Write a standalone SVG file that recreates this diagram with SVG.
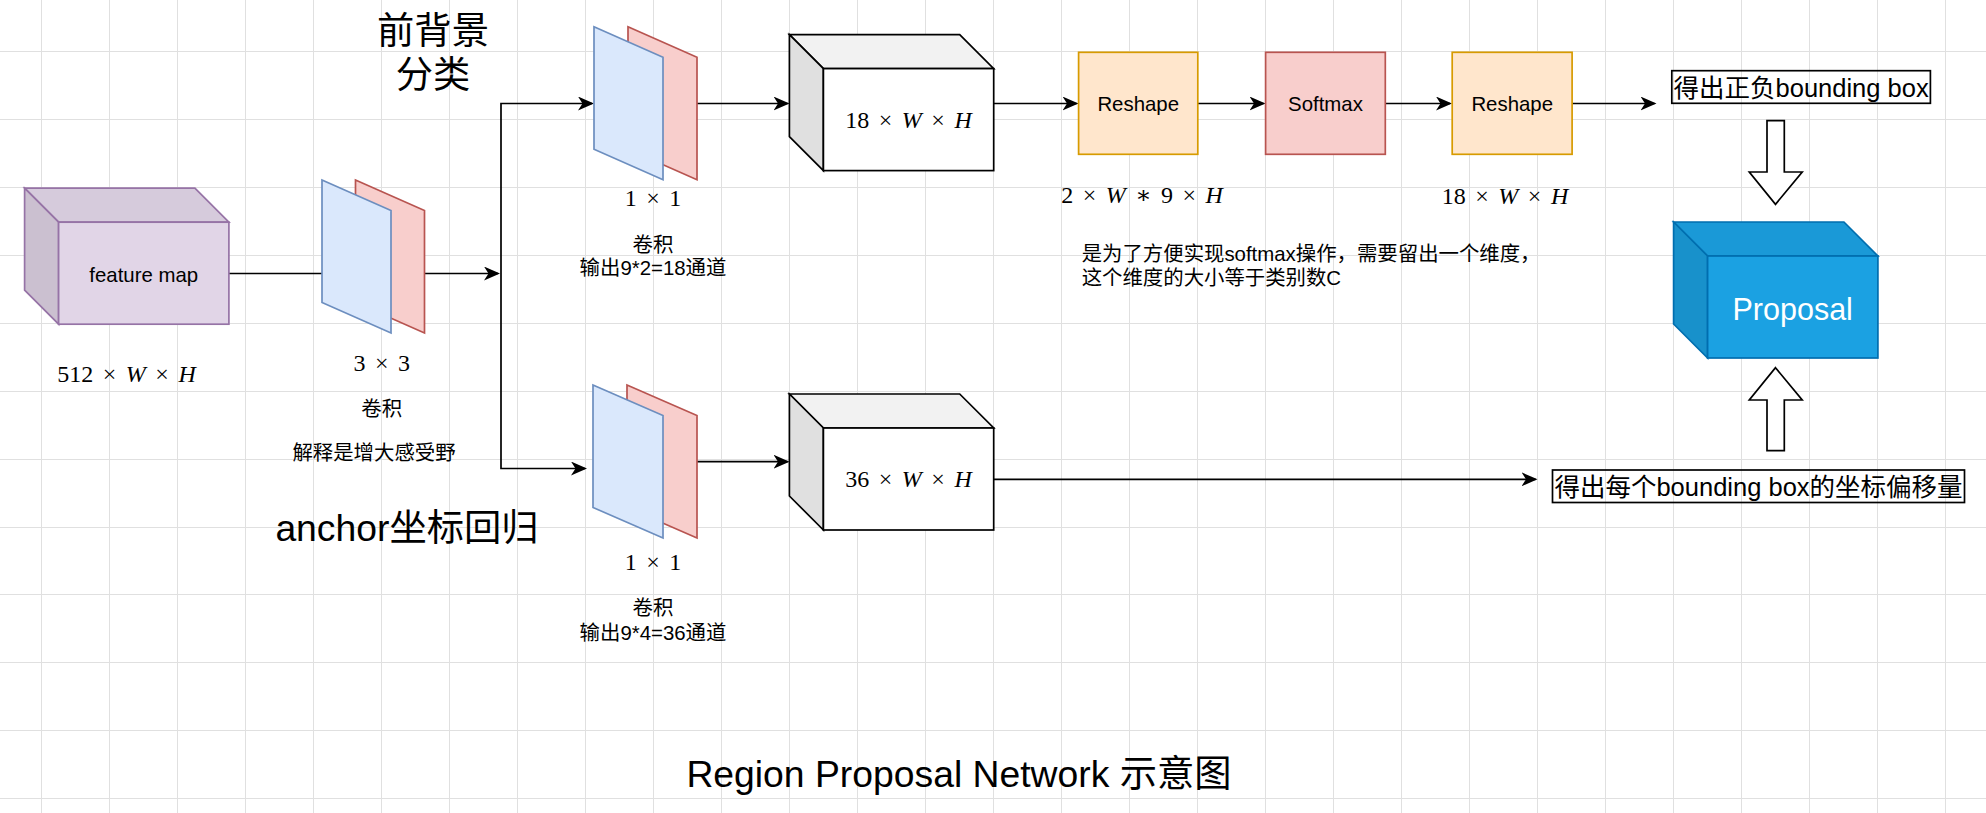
<svg xmlns="http://www.w3.org/2000/svg" width="1986" height="813" viewBox="0 0 1986 813">
<style>
.grid{stroke:#e0e0e0;stroke-width:1;fill:none}
.edge{stroke:#000;stroke-width:1.7;fill:none}
.arr{marker-end:url(#arrow)}
.both{marker-start:url(#arrow);marker-end:url(#arrow)}
.hollow{fill:#fff;stroke:#000;stroke-width:1.7;stroke-linejoin:miter}
.t{font-family:'Liberation Sans','Noto Sans CJK SC',sans-serif;fill:#000;text-anchor:middle}
.s20{font-size:20.4px}
.s25{font-size:25.5px}
.s37{font-size:37.3px}
.m{font-family:'Liberation Serif','DejaVu Serif',serif;font-size:24px;word-spacing:3.5px;text-anchor:middle;fill:#000}
.i{font-style:italic}
.blue{fill:#dae8fc;stroke:#6c8ebf;stroke-width:1.7}
.red{fill:#f8cecc;stroke:#b85450;stroke-width:1.7}
.pf{fill:#e1d5e7;stroke:#9673a6;stroke-width:1.7}
.pt{fill:#d6cbdc;stroke:#9673a6;stroke-width:1.7}
.pl{fill:#cbc0d0;stroke:#9673a6;stroke-width:1.7}
.wf{fill:#fff;stroke:#000;stroke-width:1.7}
.wt{fill:#f2f2f2;stroke:#000;stroke-width:1.7}
.wl{fill:#e0e0e0;stroke:#000;stroke-width:1.7}
.bf{fill:#1ba1e2;stroke:#006eaf;stroke-width:1.7}
.bt{fill:#1a99d7;stroke:#006eaf;stroke-width:1.7}
.bl{fill:#1891cb;stroke:#006eaf;stroke-width:1.7}
.orange{fill:#ffe6cc;stroke:#d79b00;stroke-width:1.7}
.box{fill:none;stroke:#000;stroke-width:1.7}
</style>
<defs>
<marker id="arrow" markerUnits="userSpaceOnUse" markerWidth="16" markerHeight="14" refX="14" refY="7" orient="auto-start-reverse" viewBox="0 0 16 14">
<path d="M16 7 L0 0 L4.5 7 L0 14 Z" fill="#000"/>
</marker>
</defs>
<rect x="0" y="0" width="1986" height="813" fill="#fff"/>
<path class="grid" d="M41.5 0V813M109.5 0V813M177.5 0V813M245.5 0V813M313.5 0V813M381.5 0V813M449.5 0V813M517.5 0V813M585.5 0V813M653.5 0V813M721.5 0V813M789.5 0V813M857.5 0V813M925.5 0V813M993.5 0V813M1061.5 0V813M1129.5 0V813M1197.5 0V813M1265.5 0V813M1333.5 0V813M1401.5 0V813M1469.5 0V813M1537.5 0V813M1605.5 0V813M1673.5 0V813M1741.5 0V813M1809.5 0V813M1877.5 0V813M1945.5 0V813M0 51.5H1986M0 119.5H1986M0 187.5H1986M0 255.5H1986M0 323.5H1986M0 391.5H1986M0 459.5H1986M0 527.5H1986M0 594.5H1986M0 662.5H1986M0 730.5H1986M0 798.5H1986"/>

<g id="connectors">
<path class="edge" d="M229 273.5H322"/>
<path class="edge arr" d="M424.5 273.5H498"/>
<path class="edge both" d="M592 103.5H501V468.5H585"/>
<path class="edge arr" d="M697 103.5H787.5"/>
<path class="edge arr" d="M994 103.5H1076.5"/>
<path class="edge arr" d="M1198 103.5H1263.5"/>
<path class="edge arr" d="M1385.5 103.5H1450"/>
<path class="edge arr" d="M1572 103.5H1654.5"/>
<path class="edge arr" d="M697 461.7H787.5"/>
<path class="edge arr" d="M994 479.3H1535.5"/>
<path class="hollow" d="M1767 120.7H1784.3V172H1802.2L1775.5 204.3L1749.3 172H1767Z"/>
<path class="hollow" d="M1775.5 367.7L1802.2 400H1784.3V450.7H1767V400H1749.3Z"/>
</g>

<g id="feature-map">
<path class="pt" d="M24.6 188.2H194.9L228.9 222.2H58.6Z"/>
<path class="pl" d="M24.6 188.2L58.6 222.2V324.2L24.6 290.2Z"/>
<rect class="pf" x="58.6" y="222.2" width="170.3" height="102"/>
<text class="t s20" x="143.7" y="281.5">feature map</text>
</g>
<g id="feature-map-size"><text class="m" x="126.5" y="382">512 × <tspan class="i">W</tspan> × <tspan class="i">H</tspan></text></g>

<g id="conv3x3">
<path class="red" d="M355.5 180L424.5 210.5V333L355.5 302.5Z"/>
<path class="blue" d="M322 180L391 210.5V333L322 302.5Z"/>
</g>
<g id="conv3x3-label">
<text class="m" x="381.7" y="371">3 × 3</text>
<text class="t s20" x="381.7" y="416">卷积</text>
<text class="t s20" x="374" y="459.5">解释是增大感受野</text>
</g>

<g id="title-cls"><text class="t s37"><tspan x="433" y="44">前背景</tspan><tspan x="433" y="88">分类</tspan></text></g>
<g id="title-reg"><text class="t s37" x="407" y="541">anchor坐标回归</text></g>

<g id="conv1x1-cls">
<path class="red" d="M628 26.8L697 57.3V179.8L628 149.3Z"/>
<path class="blue" d="M594 26.8L663 57.3V179.8L594 149.3Z"/>
</g>
<g id="conv1x1-cls-label">
<text class="m" x="653" y="206">1 × 1</text>
<text class="t s20" x="653" y="252">卷积</text>
<text class="t s20" x="653" y="275">输出9*2=18通道</text>
</g>

<g id="conv1x1-reg">
<path class="red" d="M627 385L697 415.5V538L627 507.5Z"/>
<path class="blue" d="M593 385L663 415.5V538L593 507.5Z"/>
</g>
<g id="conv1x1-reg-label">
<text class="m" x="653" y="570">1 × 1</text>
<text class="t s20" x="653" y="615">卷积</text>
<text class="t s20" x="653" y="639.5">输出9*4=36通道</text>
</g>

<g id="cube-18">
<path class="wt" d="M789.4 34.6H959.7L993.7 68.6H823.4Z"/>
<path class="wl" d="M789.4 34.6L823.4 68.6V170.6L789.4 136.6Z"/>
<rect class="wf" x="823.4" y="68.6" width="170.3" height="102"/>
<text class="m" x="908.5" y="128">18 × <tspan class="i">W</tspan> × <tspan class="i">H</tspan></text>
</g>

<g id="cube-36">
<path class="wt" d="M789.4 394H959.7L993.7 428H823.4Z"/>
<path class="wl" d="M789.4 394L823.4 428V530L789.4 496Z"/>
<rect class="wf" x="823.4" y="428" width="170.3" height="102"/>
<text class="m" x="908.5" y="486.7">36 × <tspan class="i">W</tspan> × <tspan class="i">H</tspan></text>
</g>

<g id="reshape1">
<rect class="orange" x="1078.6" y="52.3" width="119.2" height="102"/>
<text class="t s20" x="1138.2" y="110.8">Reshape</text>
</g>
<g id="reshape1-size"><text class="m" x="1142" y="203.3">2 × <tspan class="i">W</tspan> ∗ 9 × <tspan class="i">H</tspan></text></g>

<g id="softmax">
<rect class="red" x="1265.6" y="52.3" width="119.7" height="102"/>
<text class="t s20" x="1325.5" y="110.8">Softmax</text>
</g>

<g id="reshape2">
<rect class="orange" x="1452.2" y="52.3" width="119.9" height="102"/>
<text class="t s20" x="1512.2" y="110.8">Reshape</text>
</g>
<g id="reshape2-size"><text class="m" x="1505" y="204">18 × <tspan class="i">W</tspan> × <tspan class="i">H</tspan></text></g>

<g id="note">
<text class="t s20" style="text-anchor:start"><tspan x="1081.7" y="261">是为了方便实现softmax操作，需要留出一个维度，</tspan><tspan x="1081.7" y="284.5">这个维度的大小等于类别数C</tspan></text>
</g>

<g id="result-cls">
<rect class="box" x="1671.8" y="70.7" width="258.6" height="32.6"/>
<text class="t s25" x="1801.1" y="96.5">得出正负bounding box</text>
</g>

<g id="proposal">
<path class="bt" d="M1673.6 222H1843.9L1877.9 256H1707.6Z"/>
<path class="bl" d="M1673.6 222L1707.6 256V358L1673.6 324Z"/>
<rect class="bf" x="1707.6" y="256" width="170.3" height="102"/>
<text class="t" x="1792.7" y="320" style="font-size:30.5px;fill:#fff">Proposal</text>
</g>

<g id="result-reg">
<rect class="box" x="1552.5" y="470" width="412" height="32.5"/>
<text class="t s25" x="1758.5" y="495.7">得出每个bounding box的坐标偏移量</text>
</g>

<g id="caption"><text class="t s37" x="959" y="787">Region Proposal Network 示意图</text></g>
</svg>
